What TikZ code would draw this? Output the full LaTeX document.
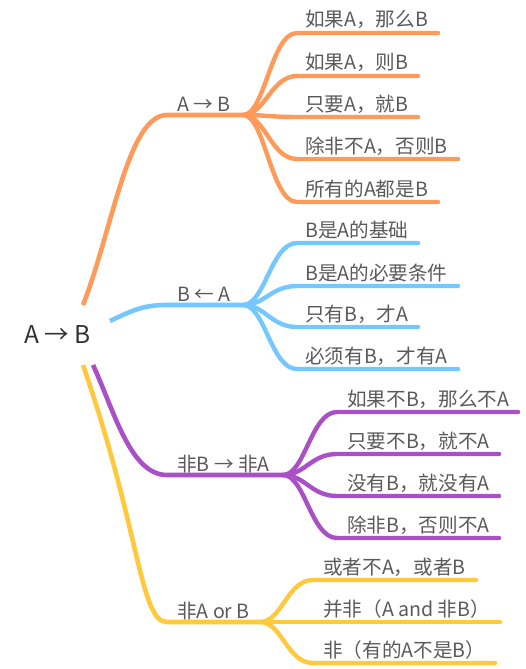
\documentclass[tikz,border=0pt]{standalone}
\usepackage{fontspec}
\usepackage{tikz}
\newfontfamily\cjk{Noto Sans CJK SC}

\definecolor{mapOrange}{HTML}{FF9A5A}
\definecolor{mapBlue}{HTML}{74C7FF}
\definecolor{mapPurple}{HTML}{AA50C6}
\definecolor{mapYellow}{HTML}{FFC93E}
\definecolor{mapText}{HTML}{5A5A5A}
\definecolor{rootText}{HTML}{333333}

\begin{document}
\begin{tikzpicture}[x=1pt, y=-1pt,
    trunk/.style={line width=4.6pt, line cap=butt},
    twig/.style={line width=4.4pt, line cap=round},
    rootlabel/.style={font=\cjk\fontsize{24.5}{28}\selectfont, text=rootText, inner sep=0pt, anchor=base west},
    hublabel/.style={font=\cjk\fontsize{19.6}{22}\selectfont, text=mapText, inner sep=0pt, anchor=base west},
    leaflabel/.style={hublabel}]

    \useasboundingbox (0,0) rectangle (525,669);

    % Root
    \node[rootlabel] (root) at (24,343) {A → B};

    % Where the four main branches leave the root
    \coordinate (ab-start) at (83,305);
    \coordinate (ba-start) at (110,321);
    \coordinate (nn-start) at (93,365);
    \coordinate (or-start) at (83,365);

    % Hubs of the four main branches
    \coordinate (ab-in) at (167,115);  \coordinate (ab-hub) at (243,115);
    \coordinate (ba-in) at (167,305);  \coordinate (ba-hub) at (243,305);
    \coordinate (nn-in) at (167,475);  \coordinate (nn-hub) at (283,475);
    \coordinate (or-in) at (167,622);  \coordinate (or-hub) at (260,622);

    % Branch labels
    \node[hublabel] (ab) at (177,111) {A → B};
    \node[hublabel] (ba) at (177,301) {B ← A};
    \node[hublabel] (nn) at (177,471) {非B → 非A};
    \node[hublabel] (or) at (177,618) {非A or B};

    % Main branches
    \draw[trunk, mapOrange] (ab-start) .. controls (113,228) and (128,115) .. (ab-in) -- (ab-hub);
    \draw[trunk, mapBlue]   (ba-start) .. controls (135,309) and (145,305) .. (ba-in) -- (ba-hub);
    \draw[trunk, mapPurple] (nn-start) .. controls (114,410) and (130,475) .. (nn-in) -- (nn-hub);
    \draw[trunk, mapYellow] (or-start) .. controls (140,530) and (140,622) .. (or-in) -- (or-hub);

    % Leaves of A -> B
    \coordinate (ab1) at (297,33);   \coordinate (ab1-end) at (438,33);
    \coordinate (ab2) at (297,76);   \coordinate (ab2-end) at (418,76);
    \coordinate (ab3) at (297,117);  \coordinate (ab3-end) at (418,117);
    \coordinate (ab4) at (297,159);  \coordinate (ab4-end) at (458,159);
    \coordinate (ab5) at (297,202);  \coordinate (ab5-end) at (438,202);
    \node[leaflabel] (ab1-text) at (305,27)  {如果A，那么B};
    \node[leaflabel] (ab2-text) at (305,70)  {如果A，则B};
    \node[leaflabel] (ab3-text) at (305,111) {只要A，就B};
    \node[leaflabel] (ab4-text) at (305,153) {除非不A，否则B};
    \node[leaflabel] (ab5-text) at (305,196) {所有的A都是B};
    \draw[twig, mapOrange] (ab-hub) .. controls +(22,0) and +(-26,0) .. (ab1) -- (ab1-end);
    \draw[twig, mapOrange] (ab-hub) .. controls +(22,0) and +(-26,0) .. (ab2) -- (ab2-end);
    \draw[twig, mapOrange] (ab-hub) .. controls +(22,0) and +(-26,0) .. (ab3) -- (ab3-end);
    \draw[twig, mapOrange] (ab-hub) .. controls +(22,0) and +(-26,0) .. (ab4) -- (ab4-end);
    \draw[twig, mapOrange] (ab-hub) .. controls +(22,0) and +(-26,0) .. (ab5) -- (ab5-end);

    % Leaves of B <- A
    \coordinate (ba1) at (297,243);  \coordinate (ba1-end) at (418,243);
    \coordinate (ba2) at (297,286);  \coordinate (ba2-end) at (458,286);
    \coordinate (ba3) at (297,327);  \coordinate (ba3-end) at (418,327);
    \coordinate (ba4) at (297,369);  \coordinate (ba4-end) at (458,369);
    \node[leaflabel] (ba1-text) at (305,237) {B是A的基础};
    \node[leaflabel] (ba2-text) at (305,280) {B是A的必要条件};
    \node[leaflabel] (ba3-text) at (305,321) {只有B，才A};
    \node[leaflabel] (ba4-text) at (305,363) {必须有B，才有A};
    \draw[twig, mapBlue] (ba-hub) .. controls +(22,0) and +(-26,0) .. (ba1) -- (ba1-end);
    \draw[twig, mapBlue] (ba-hub) .. controls +(22,0) and +(-26,0) .. (ba2) -- (ba2-end);
    \draw[twig, mapBlue] (ba-hub) .. controls +(22,0) and +(-26,0) .. (ba3) -- (ba3-end);
    \draw[twig, mapBlue] (ba-hub) .. controls +(22,0) and +(-26,0) .. (ba4) -- (ba4-end);

    % Leaves of non-B -> non-A
    \coordinate (nn1) at (337,412);  \coordinate (nn1-end) at (518,412);
    \coordinate (nn2) at (337,454);  \coordinate (nn2-end) at (499,454);
    \coordinate (nn3) at (337,496);  \coordinate (nn3-end) at (499,496);
    \coordinate (nn4) at (337,538);  \coordinate (nn4-end) at (499,538);
    \node[leaflabel] (nn1-text) at (347,406) {如果不B，那么不A};
    \node[leaflabel] (nn2-text) at (347,448) {只要不B，就不A};
    \node[leaflabel] (nn3-text) at (347,490) {没有B，就没有A};
    \node[leaflabel] (nn4-text) at (347,532) {除非B，否则不A};
    \draw[twig, mapPurple] (nn-hub) .. controls +(22,0) and +(-26,0) .. (nn1) -- (nn1-end);
    \draw[twig, mapPurple] (nn-hub) .. controls +(22,0) and +(-26,0) .. (nn2) -- (nn2-end);
    \draw[twig, mapPurple] (nn-hub) .. controls +(22,0) and +(-26,0) .. (nn3) -- (nn3-end);
    \draw[twig, mapPurple] (nn-hub) .. controls +(22,0) and +(-26,0) .. (nn4) -- (nn4-end);

    % Leaves of non-A or B
    \coordinate (or1) at (313,580);  \coordinate (or1-end) at (476,580);
    \coordinate (or2) at (313,622);  \coordinate (or2-end) at (500,622);
    \coordinate (or3) at (313,663);  \coordinate (or3-end) at (495,663);
    \node[leaflabel] (or1-text) at (323,574) {或者不A，或者B};
    \node[leaflabel] (or2-text) at (323,616) {并非（A and 非B）};
    \node[leaflabel] (or3-text) at (323,657) {非（有的A不是B）};
    \draw[twig, mapYellow] (or-hub) .. controls +(22,0) and +(-26,0) .. (or1) -- (or1-end);
    \draw[twig, mapYellow] (or-hub) .. controls +(22,0) and +(-26,0) .. (or2) -- (or2-end);
    \draw[twig, mapYellow] (or-hub) .. controls +(22,0) and +(-26,0) .. (or3) -- (or3-end);

\end{tikzpicture}
\end{document}
